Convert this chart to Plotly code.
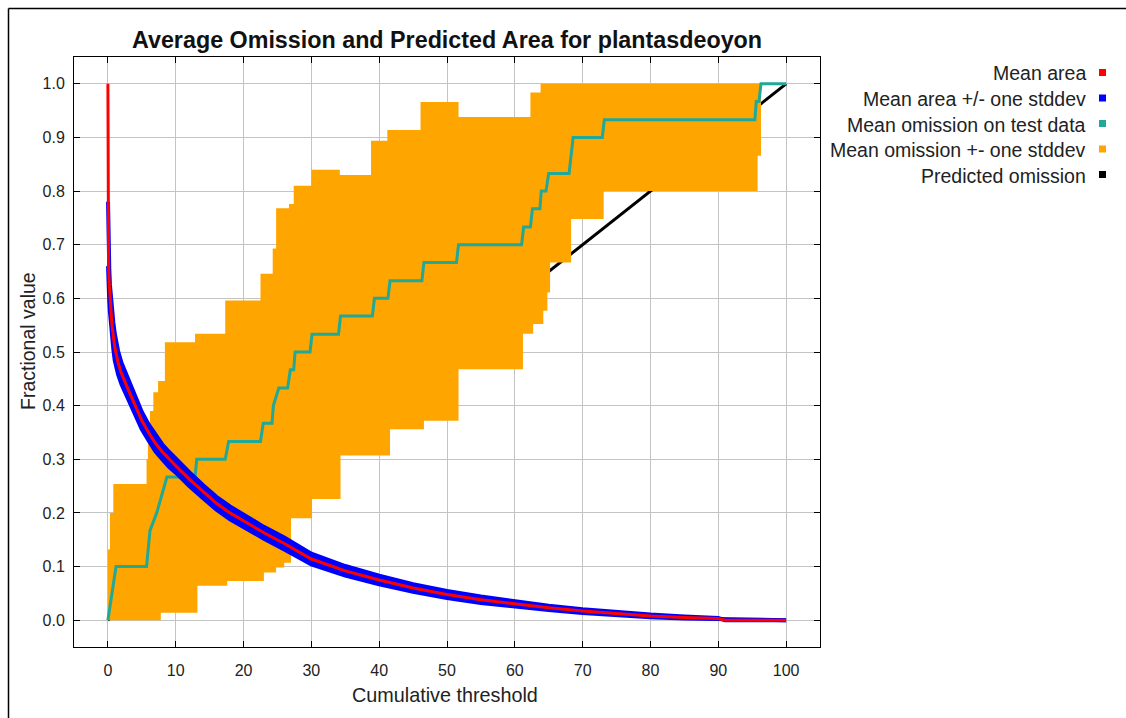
import plotly.graph_objects as go

# ---- data -------------------------------------------------------------
threshold_ticks = [0, 10, 20, 30, 40, 50, 60, 70, 80, 90, 100]
fraction_ticks = [0.0, 0.1, 0.2, 0.3, 0.4, 0.5, 0.6, 0.7, 0.8, 0.9, 1.0]

# Mean fractional predicted area and its standard deviation
area_x = [0, 0.02, 0.05, 0.1, 0.2, 0.3, 0.45, 0.6, 0.8, 1, 1.5, 2, 3, 4, 5, 6,
          7, 8, 9, 10, 12, 14, 16, 18, 20, 23, 26, 30, 35, 40, 45, 50, 55, 60,
          65, 70, 75, 80, 85, 90, 91, 100]
area_mean = [1.0, 0.72, 0.69, 0.66, 0.625, 0.60, 0.575, 0.55, 0.53, 0.51,
             0.48, 0.46, 0.43, 0.40, 0.372, 0.35, 0.33, 0.314, 0.30, 0.288,
             0.263, 0.24, 0.218, 0.20, 0.185, 0.163, 0.143, 0.114, 0.092,
             0.075, 0.06, 0.048, 0.038, 0.030, 0.023, 0.017, 0.012, 0.008,
             0.005, 0.003, 0.0, 0.0]
area_sd = [0.0, 0.06, 0.05, 0.04, 0.03, 0.025, 0.025, 0.025, 0.025, 0.025,
           0.022, 0.02, 0.018, 0.017, 0.016, 0.015, 0.015, 0.014, 0.014,
           0.013, 0.013, 0.012, 0.012, 0.012, 0.012, 0.011, 0.011, 0.010,
           0.009, 0.008, 0.007, 0.0065, 0.006, 0.005, 0.004, 0.0035, 0.003,
           0.0025, 0.002, 0.001, 0.0, 0.0]

# Mean omission on test data
omission_x = [0, 0.8, 1.2, 5.7, 6.2, 7.2, 7.9, 8.7, 12.85, 13.1, 17.3, 17.8,
              22.5, 22.9, 24.2, 24.4, 25.2, 26.5, 26.9, 27.4, 27.6, 29.8, 30.1,
              34.0, 34.3, 39.0, 39.3, 41.3, 41.6, 46.3, 46.6, 51.4, 51.7, 61.0,
              61.3, 62.3, 62.6, 63.7, 63.9, 64.6, 65.0, 68.0, 68.6, 72.9, 73.2,
              95.4, 95.6, 96.0, 96.3, 100]
omission_mean = [0, 0.067, 0.1, 0.1, 0.167, 0.2, 0.233, 0.267, 0.267, 0.3, 0.3,
                 0.333, 0.333, 0.367, 0.367, 0.4, 0.433, 0.433, 0.467, 0.467,
                 0.5, 0.5, 0.533, 0.533, 0.567, 0.567, 0.6, 0.6, 0.633, 0.633,
                 0.667, 0.667, 0.7, 0.7, 0.733, 0.733, 0.767, 0.767, 0.8, 0.8,
                 0.833, 0.833, 0.9, 0.9, 0.933, 0.933, 0.967, 0.967, 1.0, 1.0]

# Mean omission +/- one stddev (step functions: x where each level starts)
band_upper_x = [0, 0.3, 0.8, 5.7, 5.9, 6.2, 6.7, 7.4, 8.4, 12.85, 17.3, 22.5,
                24.3, 24.8, 26.7, 27.4, 30.0, 34.2, 38.8, 41.2, 46.1, 51.7,
                62.3, 63.8, 96.3]
band_upper = [0.132, 0.20, 0.254, 0.30, 0.35, 0.39, 0.425, 0.446, 0.518, 0.534,
              0.596, 0.646, 0.693, 0.768, 0.776, 0.81, 0.84, 0.83, 0.894,
              0.914, 0.966, 0.938, 0.984, 1.0, 1.0]
band_lower_x = [0, 7.8, 13.2, 17.6, 23.0, 24.8, 26.0, 27.0, 30.1, 34.3, 41.6,
                46.6, 51.7, 61.2, 62.7, 64.2, 64.8, 65.2, 68.3, 73.1, 95.8,
                96.3]
band_lower = [0, 0.014, 0.064, 0.073, 0.089, 0.098, 0.107, 0.19, 0.226, 0.307,
              0.356, 0.372, 0.468, 0.534, 0.552, 0.577, 0.611, 0.667, 0.748,
              0.80, 0.866, 0.866]

# Predicted omission
predicted_x = [0, 100]
predicted_y = [0, 1]

legend_names = ["Mean area", "Mean area +/- one stddev",
                "Mean omission on test data", "Mean omission +- one stddev",
                "Predicted omission"]

RED = "#ff0000"
BLUE = "#0000ff"
TEAL = "#20a898"
ORANGE = "#ffa500"
BLACK = "#000000"
legend_colors = [RED, BLUE, TEAL, ORANGE, BLACK]

FONT = "Liberation Sans, Arial, sans-serif"

# ---- geometry helpers (pixel -> paper) --------------------------------
W, H = 1126, 718
L, R, T, B = 74, 820, 57, 647


def px(x):
    return (x - L) / (R - L)


def py(y):
    return (B - y) / (B - T)


fig = go.Figure()

# predicted omission (drawn first, sits below the band)
fig.add_trace(go.Scatter(x=predicted_x, y=predicted_y, mode="lines",
                         line=dict(color=BLACK, width=3), hoverinfo="skip"))

# omission band
fig.add_trace(go.Scatter(x=band_lower_x, y=band_lower, mode="lines",
                         line=dict(color=ORANGE, width=0, shape="hv"),
                         hoverinfo="skip"))
fig.add_trace(go.Scatter(x=band_upper_x, y=band_upper, mode="lines",
                         line=dict(color=ORANGE, width=0, shape="hv"),
                         fill="tonexty", fillcolor=ORANGE, hoverinfo="skip"))

# mean omission on test data
fig.add_trace(go.Scatter(x=omission_x, y=omission_mean, mode="lines",
                         line=dict(color=TEAL, width=3), hoverinfo="skip"))

# mean area +/- stddev
upper = [m + s for m, s in zip(area_mean, area_sd)][1:]
lower = [m - s for m, s in zip(area_mean, area_sd)][1:]
fig.add_trace(go.Scatter(x=area_x[1:], y=lower, mode="lines",
                         line=dict(color=BLUE, width=4), hoverinfo="skip"))
fig.add_trace(go.Scatter(x=area_x[1:], y=upper, mode="lines",
                         line=dict(color=BLUE, width=4), fill="tonexty",
                         fillcolor=BLUE, hoverinfo="skip"))

# mean area
fig.add_trace(go.Scatter(x=area_x, y=area_mean, mode="lines",
                         line=dict(color=RED, width=3), hoverinfo="skip"))

axis_common = dict(showline=True, linecolor=BLACK, linewidth=1, mirror="ticks",
                   ticks="inside", ticklen=6, tickcolor=BLACK, tickwidth=1,
                   showgrid=True, gridcolor="#c4c4c4", gridwidth=1,
                   zeroline=False, tickfont=dict(family=FONT, size=16,
                                                 color="#222222"))

fig.update_xaxes(range=[-5, 105], tickvals=threshold_ticks,
                 ticklabelstandoff=9, **axis_common)
fig.update_yaxes(range=[-0.05, 1.05], tickvals=fraction_ticks,
                 ticktext=[f"{v:.1f}" for v in fraction_ticks],
                 ticklabelstandoff=5, **axis_common)

annotations = [
    dict(text="<b>Average Omission and Predicted Area for plantasdeoyon</b>",
         x=0.5, y=py(40.5), xref="paper", yref="paper", showarrow=False,
         xanchor="center", yanchor="middle",
         font=dict(family=FONT, size=23.3, color="#111111")),
    dict(text="Cumulative threshold", x=px(445), y=py(695), xref="paper",
         yref="paper", showarrow=False, xanchor="center", yanchor="middle",
         font=dict(family=FONT, size=19.8, color="#222222")),
    dict(text="Fractional value", x=px(28), y=py(341), xref="paper",
         yref="paper", showarrow=False, xanchor="center", yanchor="middle",
         textangle=-90, font=dict(family=FONT, size=19.5, color="#222222")),
]

shapes = []
for i, (name, col) in enumerate(zip(legend_names, legend_colors)):
    yc = 73.5 + 25.5 * i
    annotations.append(dict(text=name, x=px(1088), y=py(yc), xref="paper",
                            yref="paper", showarrow=False, xanchor="right",
                            yanchor="middle",
                            font=dict(family=FONT, size=19.5, color="#222222")))
    shapes.append(dict(type="rect", xref="paper", yref="paper",
                       x0=px(1099), x1=px(1106), y0=py(yc + 2.5),
                       y1=py(yc - 4.5), fillcolor=col, line=dict(width=0)))

# outer frame: left and top edges
frame = dict(color=BLACK, width=1.5)
shapes.append(dict(type="line", xref="paper", yref="paper", x0=px(8.5),
                   x1=px(8.5), y0=py(H + 5), y1=py(8.5), line=frame,
                   layer="above"))
shapes.append(dict(type="line", xref="paper", yref="paper", x0=px(8.5),
                   x1=px(W + 5), y0=py(8.5), y1=py(8.5), line=frame,
                   layer="above"))

fig.update_layout(width=W, height=H, showlegend=False,
                  margin=dict(l=L, r=W - R, t=T, b=H - B),
                  plot_bgcolor="white", paper_bgcolor="white",
                  font=dict(family=FONT),
                  annotations=annotations, shapes=shapes)

fig.write_html("out.html")
